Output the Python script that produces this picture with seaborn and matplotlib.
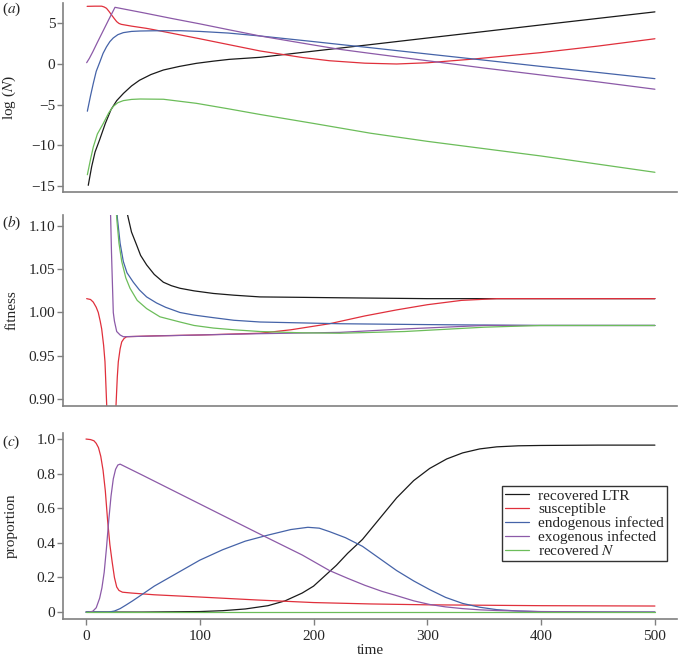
import pandas as pd
import matplotlib
matplotlib.use("Agg")
import matplotlib.pyplot as plt
import seaborn as sns

# ---- series names / colours ----
series = ["recovered LTR", "susceptible", "endogenous infected",
          "exogenous infected", "recovered $N$"]
colours = ["#1a1a1a", "#e0303c", "#4563a8", "#8c5aa8", "#6cbd5a"]

# ---- panel (a): log(N) ----
a_ltr_t = [2, 5, 8, 12, 17, 22, 27, 33, 40, 47, 57, 68, 82, 97, 112, 126, 140, 153, 200, 250, 300, 350, 400, 450, 500]
a_ltr_v = [-14.9, -12.6, -10.8, -9.3, -7.3, -5.6, -4.5, -3.6, -2.7, -2.0, -1.3, -0.74, -0.3, 0.08, 0.35, 0.57, 0.7,
           0.82, 1.58, 2.38, 3.19, 3.99, 4.8, 5.6, 6.4]
a_sus_t = [1, 8, 13.8, 16, 18, 20, 22.6, 25, 27, 29, 31, 40, 53, 60, 80, 100, 130, 153, 190, 214, 245, 273, 300,
           340, 400, 450, 500]
a_sus_v = [7.08, 7.1, 7.1, 7.0, 6.84, 6.5, 6.0, 5.55, 5.2, 4.98, 4.87, 4.65, 4.38, 4.2, 3.65, 3.1, 2.25, 1.6, 0.8,
           0.4, 0.1, 0.0, 0.15, 0.6, 1.4, 2.2, 3.1]
a_endo_t = [1.2, 4, 6.4, 9, 12.3, 15, 18, 21, 24, 28, 32.8, 40, 47.5, 60, 82.6, 100, 125, 153, 200, 223, 250, 300,
            350, 400, 450, 500]
a_endo_v = [-5.8, -3.9, -2.4, -0.9, 0.29, 1.3, 2.1, 2.75, 3.2, 3.6, 3.85, 4.0, 4.05, 4.08, 4.09, 4.0, 3.8, 3.44,
            2.75, 2.4, 2.0, 1.23, 0.47, -0.3, -1.04, -1.8]
a_exo_t = [0.6, 3, 6, 10, 15, 20, 25.5, 50, 75, 100, 125, 153, 180, 200, 223, 250, 300, 350, 400, 450, 500]
a_exo_v = [0.16, 0.7, 1.5, 2.65, 4.05, 5.45, 6.96, 6.3, 5.6, 4.93, 4.22, 3.44, 2.8, 2.33, 1.8, 1.3, 0.4, -0.5,
           -1.35, -2.2, -3.1]
a_recn_t = [1.2, 4, 6.4, 10, 15.2, 20, 24, 28, 32.8, 40, 47.5, 68, 97, 125, 153, 200, 250, 300, 350, 400, 450, 500]
a_recn_v = [-13.6, -11.7, -10.2, -8.6, -7.3, -6.0, -5.2, -4.75, -4.5, -4.35, -4.3, -4.33, -4.83, -5.5, -6.2, -7.3,
            -8.5, -9.5, -10.4, -11.3, -12.3, -13.3]

# ---- panel (b): fitness ----
b_ltr_t = [36, 37.2, 40, 44.5, 48, 53.3, 60, 68, 75, 82.6, 95, 112, 130, 153, 190, 223, 300, 500]
b_ltr_v = [1.116, 1.109, 1.093, 1.078, 1.066, 1.055, 1.044, 1.035, 1.031, 1.028, 1.025, 1.022, 1.020, 1.018,
           1.0175, 1.017, 1.016, 1.016]
b_sus_t = [0.6, 4, 6.4, 9, 10.8, 12.5, 13.8, 15.5, 16.7, 18.2, 19.5, 25, 26.4, 27.5, 28.4, 30, 31.4, 33.5, 35.7,
           60, 100, 153, 180, 214, 245, 273, 300, 330, 361, 400, 500]
b_sus_v = [1.016, 1.015, 1.012, 1.006, 1.0, 0.99, 0.981, 0.962, 0.943, 0.893, 0.80, 0.80, 0.893, 0.925, 0.943,
           0.958, 0.966, 0.970, 0.972, 0.973, 0.974, 0.976, 0.980, 0.987, 0.996, 1.003, 1.009, 1.014, 1.016, 1.016,
           1.016]
b_endo_t = [27, 27.6, 30, 32.8, 36, 41.6, 47, 53.3, 62, 70, 82.6, 95, 112, 130, 153, 223, 300, 400, 500]
b_endo_v = [1.12, 1.109, 1.08, 1.059, 1.046, 1.035, 1.026, 1.018, 1.011, 1.006, 1.0, 0.997, 0.994, 0.991, 0.989,
            0.987, 0.986, 0.985, 0.985]
b_exo_t = [21, 21.7, 22.4, 23.1, 24, 25, 27, 30, 32.8, 50, 100, 153, 223, 280, 350, 500]
b_exo_v = [1.14, 1.109, 1.07, 1.039, 1.0, 0.99, 0.978, 0.974, 0.972, 0.9725, 0.974, 0.9755, 0.977, 0.981, 0.985,
           0.985]
b_recn_t = [26.5, 27, 29, 31.4, 35, 38.7, 45, 53.3, 65, 82.6, 95, 112, 130, 153, 190, 223, 280, 350, 400, 500]
b_recn_v = [1.12, 1.109, 1.08, 1.059, 1.04, 1.028, 1.014, 1.0045, 0.995, 0.989, 0.985, 0.982, 0.98, 0.978,
            0.9765, 0.976, 0.978, 0.983, 0.985, 0.985]

# ---- panel (c): proportion ----
c_ltr_t = [0, 50, 100, 120, 140, 160, 175, 190, 200, 210, 220, 230, 243, 258, 273, 288, 302, 317, 331, 346, 361,
           380, 400, 450, 500]
c_ltr_v = [0, 0.0, 0.003, 0.008, 0.018, 0.037, 0.065, 0.11, 0.15, 0.21, 0.27, 0.34, 0.42, 0.54, 0.66, 0.76, 0.83,
           0.885, 0.92, 0.943, 0.955, 0.961, 0.963, 0.965, 0.965]
c_sus_t = [0, 4, 7, 9, 11, 13, 15, 17, 19, 21, 23, 25, 27, 29, 32, 40, 60, 100, 150, 200, 250, 300, 400, 500]
c_sus_v = [1.0, 0.997, 0.99, 0.975, 0.95, 0.9, 0.82, 0.70, 0.53, 0.39, 0.29, 0.2, 0.145, 0.125, 0.115, 0.11, 0.10,
           0.087, 0.07, 0.055, 0.047, 0.042, 0.037, 0.035]
c_endo_t = [0, 20, 25, 30, 35, 41, 50, 60, 80, 100, 120, 140, 160, 180, 195, 205, 214, 228, 243, 258, 273, 288,
            302, 316, 331, 346, 361, 380, 400, 450, 500]
c_endo_v = [0, 0.0, 0.006, 0.02, 0.04, 0.065, 0.105, 0.15, 0.225, 0.30, 0.36, 0.41, 0.445, 0.477, 0.49, 0.485,
            0.465, 0.43, 0.38, 0.31, 0.24, 0.18, 0.13, 0.085, 0.05, 0.028, 0.014, 0.006, 0.002, 0.0, 0.0]
c_exo_t = [3, 6, 9, 12, 14, 16, 18, 20, 22, 24, 26, 28, 30, 50, 100, 150, 190, 214, 230, 245, 260, 273, 288, 302,
           316, 331, 346, 361, 400, 450, 500]
c_exo_v = [0, 0.005, 0.025, 0.08, 0.14, 0.23, 0.37, 0.53, 0.67, 0.77, 0.825, 0.85, 0.855, 0.79, 0.625, 0.46, 0.33,
           0.24, 0.195, 0.155, 0.12, 0.095, 0.065, 0.044, 0.03, 0.02, 0.013, 0.009, 0.003, 0.001, 0.0]
c_recn_t = [0, 100, 200, 300, 400, 500]
c_recn_v = [0, 0, 0, 0, 0, 0]


def long_frame(pairs):
    frames = []
    for name, (t, v) in zip(series, pairs):
        frames.append(pd.DataFrame({"time": t, "value": v, "series": name}))
    return pd.concat(frames, ignore_index=True)


df_a = long_frame([(a_ltr_t, a_ltr_v), (a_sus_t, a_sus_v), (a_endo_t, a_endo_v),
                   (a_exo_t, a_exo_v), (a_recn_t, a_recn_v)])
df_b = long_frame([(b_ltr_t, b_ltr_v), (b_sus_t, b_sus_v), (b_endo_t, b_endo_v),
                   (b_exo_t, b_exo_v), (b_recn_t, b_recn_v)])
df_c = long_frame([(c_ltr_t, c_ltr_v), (c_sus_t, c_sus_v), (c_endo_t, c_endo_v),
                   (c_exo_t, c_exo_v), (c_recn_t, c_recn_v)])

sns.set_theme(style="ticks")
plt.rcParams["font.family"] = ["Liberation Serif", "DejaVu Serif"]
plt.rcParams["mathtext.fontset"] = "stix"
FS = 11

W, H = 678, 660
fig = plt.figure(figsize=(W / 100, H / 100), dpi=100)


def add_axes(top_px, bottom_px, left_px=63, right_px=677):
    return fig.add_axes([left_px / W, 1 - bottom_px / H, (right_px - left_px) / W, (bottom_px - top_px) / H])


ax_a = add_axes(3, 192)
ax_b = add_axes(215, 406)
ax_c = add_axes(433, 619)

palette = dict(zip(series, colours))
for ax, df in [(ax_a, df_a), (ax_b, df_b), (ax_c, df_c)]:
    sns.lineplot(data=df, x="time", y="value", hue="series", palette=palette,
                 estimator=None, sort=True, linewidth=0.9, ax=ax, legend=(ax is ax_c))
    ax.set_xlim(-20.2, 519.4)
    for side in ["top", "right"]:
        ax.spines[side].set_visible(False)
    for side in ["left", "bottom"]:
        ax.spines[side].set_color("#808080")
        ax.spines[side].set_linewidth(1.2)
    ax.tick_params(axis="both", direction="out", length=4, width=1, color="#808080",
                   labelsize=FS)
    ax.tick_params(axis="y", pad=1.5)
    ax.tick_params(axis="x", pad=4)
    ax.set_xlabel("")

ax_a.set_ylim(-15.72, 7.49)
ax_a.set_yticks([5, 0, -5, -10, -15])
ax_a.set_xticks([])
ax_a.set_ylabel(r"log ($N$)", fontsize=FS)

ax_b.set_ylim(0.8919, 1.1127)
ax_b.set_yticks([0.90, 0.95, 1.00, 1.05, 1.10])
ax_b.set_yticklabels(["0.90", "0.95", "1.00", "1.05", "1.10"])
ax_b.set_xticks([])
ax_b.set_ylabel("fitness", fontsize=FS)

ax_c.set_ylim(-0.040, 1.035)
ax_c.set_yticks([0, 0.2, 0.4, 0.6, 0.8, 1.0])
ax_c.set_yticklabels(["0", "0.2", "0.4", "0.6", "0.8", "1.0"])
ax_c.set_xticks([0, 100, 200, 300, 400, 500])
ax_c.set_ylabel("proportion", fontsize=FS)
ax_c.set_xlabel("time", fontsize=FS, labelpad=1)

for ax in (ax_a, ax_b, ax_c):
    ax.yaxis.set_label_coords(-0.073, 0.5)

leg = ax_c.legend(loc="upper right", bbox_to_anchor=(0.984, 0.715), borderaxespad=0,
                  fontsize=11, frameon=True, fancybox=False, edgecolor="black",
                  handlelength=1.6, handletextpad=0.6, labelspacing=0.0, borderpad=0.2)
leg.get_frame().set_linewidth(1.0)
for line in leg.get_lines():
    line.set_linewidth(0.9)

for label, ypx in [("a", 9), ("b", 223), ("c", 442)]:
    fig.text(2 / W, 1 - ypx / H, "($\\it{%s}$)" % label, fontsize=FS, va="center", ha="left")

fig.savefig("out.png", dpi=100)
